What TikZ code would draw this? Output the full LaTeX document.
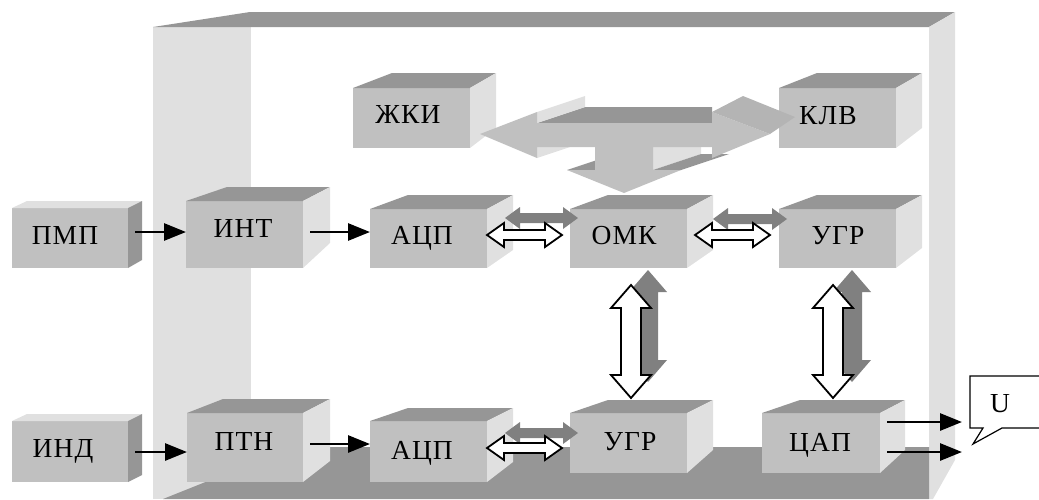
\documentclass[tikz,border=0pt]{standalone}
\usepackage{fontspec}
\setmainfont{Liberation Serif}[LetterSpace=4]
\usetikzlibrary{arrows.meta,calc}
\definecolor{frontg}{HTML}{C0C0C0}
\definecolor{darkg}{HTML}{969696}
\definecolor{lightg}{HTML}{E0E0E0}
\definecolor{shadowg}{HTML}{808080}
\definecolor{midg}{HTML}{B4B4B4}
\tikzset{
  front/.style={fill=frontg, draw=none, rectangle, inner sep=0pt, outer sep=0pt},
  topface/.style={fill=darkg},
  sideface/.style={fill=lightg},
  lbl/.style={font=\fontsize{27.5}{31}\selectfont, inner sep=0pt, text height=18pt, text depth=0pt},
  arr/.style={line width=2.8pt, -{Triangle[length=22pt,width=17pt]}},
  wharrow/.style={fill=white, draw=black, line width=1.8pt, line join=miter},
  sharrow/.style={fill=shadowg},
  callout/.style={fill=white, draw=black, line width=1.2pt},
}
% #1 name, #2 x1, #3 y1, #4 x2, #5 y2, #6 top-left depth, #7 right depth, #8 rise, #9 back height
\newcommand\cubeat[9]{%
  \node[front, anchor=north west, minimum width={(#4-#2)*1pt}, minimum height={(#5-#3)*1pt}] (#1) at (#2,#3) {};
  \fill[topface] (#1.north west) -- ++(#6,-#8) -- ([shift={(#7,-#8)}]#1.north east) -- (#1.north east) -- cycle;
  \fill[sideface] (#1.north east) -- ++(#7,-#8) -- ++(0,#9) -- (#1.south east) -- cycle;
}
% horizontal double arrow: #1 style, #2 left tip, #3 right tip, #4 head length, #5 head half, #6 shaft half
\newcommand\dblh[6]{%
  \path[#1] let \p1=(#2), \p2=(#3) in
    (\x1,\y1) -- (\x1+#4pt,\y1+#5pt) -- (\x1+#4pt,\y1+#6pt) -- (\x2-#4pt,\y1+#6pt) -- (\x2-#4pt,\y1+#5pt)
    -- (\x2,\y1) -- (\x2-#4pt,\y1-#5pt) -- (\x2-#4pt,\y1-#6pt) -- (\x1+#4pt,\y1-#6pt) -- (\x1+#4pt,\y1-#5pt) -- cycle;
}
% vertical double arrow: #2 top tip, #3 bottom tip
\newcommand\dblv[6]{%
  \path[#1] let \p1=(#2), \p2=(#3) in
    (\x1,\y1) -- (\x1+#5pt,\y1-#4pt) -- (\x1+#6pt,\y1-#4pt) -- (\x1+#6pt,\y2+#4pt) -- (\x1+#5pt,\y2+#4pt)
    -- (\x1,\y2) -- (\x1-#5pt,\y2+#4pt) -- (\x1-#6pt,\y2+#4pt) -- (\x1-#6pt,\y1-#4pt) -- (\x1-#5pt,\y1-#4pt) -- cycle;
}
\begin{document}
\begin{tikzpicture}[x=1pt,y=-1pt]
\useasboundingbox (0,0) rectangle (1039,499);
\clip (0,0) rectangle (1039,499);
% frame
\fill[lightg] (153,27) rectangle (251,499);
\fill[darkg] (153,27) -- (250,12) -- (955,12) -- (929,27) -- cycle;
\fill[lightg] (929,27) -- (955,12) -- (955,460) -- (933,499) -- (929,499) -- cycle;
\fill[darkg] (163,499) -- (293,447) -- (929,447) -- (929,499) -- cycle;
% blocks
\begin{scope}[topface/.style={fill=lightg}, sideface/.style={fill=darkg}]
  \cubeat{pmp}{12}{208}{128}{268}{15}{14}{7}{59}
  \cubeat{ind}{12}{421}{128}{482}{15}{14}{7}{61}
\end{scope}
\cubeat{int}{186}{201}{303}{268}{41}{27}{14}{56}
\cubeat{adc1}{370}{209}{487}{268}{38}{26}{14}{55}
\cubeat{omk}{570}{209}{687}{268}{38}{26}{14}{55}
\cubeat{ugr1}{779}{209}{896}{268}{38}{26}{14}{53}
\cubeat{zki}{353}{88}{470}{148}{39}{26}{15}{55}
\cubeat{klv}{779}{88}{896}{148}{38}{26}{15}{55}
\cubeat{ptn}{187}{413}{303}{482}{36}{27}{14}{62}
\cubeat{adc2}{370}{421}{487}{482}{38}{26}{13}{54}
\cubeat{ugr2}{570}{413}{687}{473}{38}{26}{13}{50}
\cubeat{cap}{762}{413}{880}{473}{38}{25}{13}{50}
% shadow double arrows
\dblh{sharrow}{[shift={(18,-20.5)}]adc1.east}{[shift={(8,-20.5)}]omk.west}{15}{11}{5}
\dblh{sharrow}{[shift={(26,-19.5)}]omk.east}{[shift={(8,-19.5)}]ugr1.west}{15}{11}{5}
\dblh{sharrow}{[shift={(18,-18.5)}]adc2.east}{[shift={(8,-10)}]ugr2.west}{15}{11}{5}
\dblv{sharrow}{[shift={(19.5,2)}]omk.south}{[shift={(19.5,-31)}]ugr2.north}{22}{19}{10}
\dblv{sharrow}{[shift={(14.5,2)}]ugr1.south}{[shift={(31,-31)}]cap.north}{22}{19}{10}
% white double arrows
\dblh{wharrow}{[shift={(0,-3.5)}]adc1.east}{[shift={(-8,-3.5)}]omk.west}{17}{12}{5}
\dblh{wharrow}{[shift={(8,-3.5)}]omk.east}{[shift={(-9,-3.5)}]ugr1.west}{17}{12}{5}
\dblh{wharrow}{[shift={(0,-3.5)}]adc2.east}{[shift={(-8,5)}]ugr2.west}{17}{12}{5}
\dblv{wharrow}{[shift={(2.5,17)}]omk.south}{[shift={(2.5,-15)}]ugr2.north}{23}{20}{10}
\dblv{wharrow}{[shift={(-4.5,17)}]ugr1.south}{[shift={(12,-15)}]cap.north}{23}{20}{10}
% bus arrow ZKI - KLV - OMK
\fill[darkg] (537,123) -- (585,107) -- (712,107) -- (712,123) -- cycle;
\fill[lightg] (537,112) -- (585,96) -- (585,107) -- (537,123) -- cycle;
\fill[lightg] (537,147) -- (537,158) -- (585,142) -- (585,131) -- cycle;
\fill[lightg] (653,147) -- (701,131) -- (701,154) -- (653,170) -- cycle;
\fill[darkg] (653,170) -- (681,170) -- (729,154) -- (701,154) -- cycle;
\fill[darkg] (567,170) -- (595,170) -- (643,154) -- (615,154) -- cycle;
\fill[frontg] (480,134) -- (537,112) -- (537,123) -- (712,123) -- (712,112) -- (770,134)
  -- (712,158) -- (712,147) -- (653,147) -- (653,170) -- (681,170) -- (624,193)
  -- (567,170) -- (595,170) -- (595,147) -- (537,147) -- (537,158) -- cycle;
\fill[midg] (712,112) -- (743,96) -- (795,117) -- (770,134) -- cycle;
% signal arrows
\draw[arr] ([shift={(7,-6)}]pmp.east) -- ([shift={(0,-2.5)}]int.west);
\draw[arr] ([shift={(7,-2.5)}]int.east) -- ([shift={(0,-6.5)}]adc1.west);
\draw[arr] ([shift={(7,0.5)}]ind.east) -- ([shift={(0,4.5)}]ptn.west);
\draw[arr] ([shift={(7,-3.5)}]ptn.east) -- ([shift={(0,-7.5)}]adc2.west);
\coordinate (out1) at (962,422);
\coordinate (out2) at (962,452);
\draw[arr] ([shift={(7,-21)}]cap.east) -- (out1);
\draw[arr] ([shift={(7,9)}]cap.east) -- (out2);
% callout
\draw[callout] (970,376) -- (1050,376) -- (1050,428) -- (1002,428) -- (973,444) -- (983,428) -- (970,428) -- cycle;
% labels
\node[lbl] (pmpT) at (65,235.5) {ПМП};
\node[lbl] (intT) at (243,228) {ИНТ};
\node[lbl] (adc1T) at (422,235.5) {АЦП};
\node[lbl] (omkT) at (624,235.5) {ОМК};
\node[lbl] (ugr1T) at (838,235) {УГР};
\node[lbl] (zkiT) at (408,114) {ЖКИ};
\node[lbl] (klvT) at (828,115) {КЛВ};
\node[lbl] (indT) at (63,448) {ИНД};
\node[lbl] (ptnT) at (244,441) {ПТН};
\node[lbl] (adc2T) at (422,450) {АЦП};
\node[lbl] (ugr2T) at (630,441) {УГР};
\node[lbl] (capT) at (820,442) {ЦАП};
\node[lbl] (uT) at (1000,403) {U};
\end{tikzpicture}
\end{document}
